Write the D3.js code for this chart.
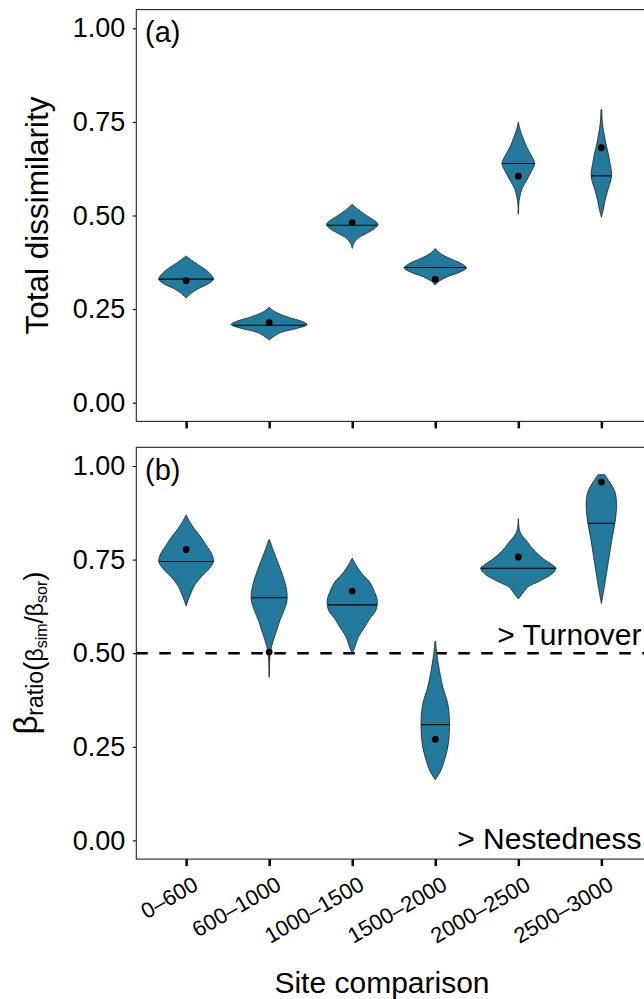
<!DOCTYPE html>
<html>
<head>
<meta charset="utf-8">
<script src="https://cdn.jsdelivr.net/npm/d3@7"></script>
<style>
  body { margin: 0; background: #fff; }
  svg { display: block; font-family: "Liberation Sans", Arial, sans-serif; }
</style>
</head>
<body>
<div id="chart"></div>
<script>
// ---- data ----
const categories = ["0–600", "600–1000", "1000–1500", "1500–2000", "2000–2500", "2500–3000"];
const yTicks = [0, 0.25, 0.5, 0.75, 1];

// (a) total dissimilarity
const dissimMedian = [0.330, 0.207, 0.474, 0.361, 0.639, 0.606];
const dissimObserved = [0.326, 0.2135, 0.481, 0.330, 0.605, 0.681];
// violin outlines: [value, relative density]
const dissimProfiles = [
  [[0.392,0],[0.376,0.21],[0.354,0.53],[0.341,0.66],[0.330,0.72],[0.319,0.61],[0.305,0.33],[0.292,0.13],[0.279,0]],
  [[0.255,0],[0.243,0.15],[0.2295,0.47],[0.218,0.84],[0.209,1.0],[0.1985,0.74],[0.188,0.32],[0.176,0.11],[0.167,0]],
  [[0.530,0],[0.514,0.18],[0.496,0.44],[0.483,0.63],[0.476,0.68],[0.465,0.59],[0.452,0.37],[0.439,0.15],[0.425,0.04],[0.412,0]],
  [[0.412,0],[0.399,0.13],[0.385,0.39],[0.372,0.68],[0.360,0.82],[0.348,0.63],[0.336,0.31],[0.325,0.11],[0.314,0]],
  [[0.750,0],[0.728,0.05],[0.706,0.13],[0.683,0.22],[0.661,0.34],[0.639,0.43],[0.617,0.34],[0.594,0.22],[0.572,0.10],[0.550,0.04],[0.530,0.012],[0.504,0.008]],
  [[0.783,0.01],[0.746,0.03],[0.719,0.07],[0.692,0.12],[0.666,0.18],[0.639,0.23],[0.612,0.27],[0.594,0.25],[0.568,0.17],[0.541,0.10],[0.515,0.05],[0.495,0]]
];

// (b) beta ratio
const ratioMedian = [0.745, 0.648, 0.629, 0.309, 0.727, 0.847];
const ratioObserved = [0.777, 0.503, 0.666, 0.270, 0.757, 0.957];
const ratioProfiles = [
  [[0.870,0],[0.854,0.08],[0.832,0.22],[0.810,0.39],[0.788,0.53],[0.766,0.67],[0.745,0.72],[0.726,0.61],[0.703,0.39],[0.681,0.22],[0.659,0.12],[0.641,0.05],[0.626,0]],
  [[0.803,0.01],[0.774,0.11],[0.748,0.21],[0.721,0.31],[0.694,0.40],[0.668,0.46],[0.641,0.47],[0.614,0.39],[0.587,0.28],[0.561,0.20],[0.534,0.11],[0.507,0.04],[0.481,0.015],[0.436,0.006]],
  [[0.754,0],[0.734,0.11],[0.712,0.26],[0.690,0.46],[0.668,0.57],[0.641,0.66],[0.614,0.62],[0.592,0.46],[0.570,0.33],[0.543,0.16],[0.516,0.07],[0.499,0]],
  [[0.532,0.01],[0.499,0.04],[0.454,0.11],[0.409,0.20],[0.365,0.33],[0.329,0.37],[0.285,0.37],[0.249,0.33],[0.214,0.24],[0.187,0.15],[0.162,0]],
  [[0.859,0],[0.823,0.05],[0.797,0.24],[0.774,0.42],[0.752,0.66],[0.734,0.92],[0.727,0.99],[0.712,0.89],[0.694,0.59],[0.676,0.24],[0.659,0.11],[0.645,0]],
  [[0.977,0.09],[0.957,0.22],[0.930,0.36],[0.895,0.40],[0.850,0.36],[0.806,0.28],[0.761,0.21],[0.716,0.14],[0.672,0.07],[0.632,0]]
];

// ---- drawing ----
const width = 644, height = 999;
const fill = "#237a9c";

const svg = d3.select("#chart").append("svg")
  .attr("width", width)
  .attr("height", height);
svg.append("rect").attr("width", width).attr("height", height).attr("fill", "#fff");

const x = d3.scalePoint().domain(categories).range([136.3, 651.2]).padding(0.6);
const halfW = d3.scaleLinear().domain([0, 1]).range([0, 38]);

// linear read of a profile at value v
const widthAt = (profile, v) => {
  for (let i = 0; i < profile.length - 1; i++) {
    const [v0, d0] = profile[i], [v1, d1] = profile[i + 1];
    if (v <= v0 && v >= v1) return d0 + (d1 - d0) * (v - v0) / (v1 - v0);
  }
  return 0;
};

const panels = [
  { label: "(a)", top: 9.6, bottom: 421.4, profiles: dissimProfiles, medians: dissimMedian, observed: dissimObserved, xLabels: false },
  { label: "(b)", top: 447.3, bottom: 859.1, profiles: ratioProfiles, medians: ratioMedian, observed: ratioObserved, xLabels: true }
];

panels.forEach((p, pi) => {
  const y = d3.scaleLinear().domain([-0.05, 1.05]).range([p.bottom, p.top]);
  const g = svg.append("g");
  const [x0, x1] = x.range();

  // reference line (panel b)
  if (pi === 1) {
    g.append("line")
      .attr("x1", x0).attr("x2", x1)
      .attr("y1", y(0.5)).attr("y2", y(0.5))
      .attr("stroke", "#000")
      .attr("stroke-width", 2.6)
      .attr("stroke-dasharray", "11.5,11.5");
  }

  const area = d3.area()
    .curve(d3.curveCatmullRom.alpha(0.5))
    .y(d => y(d[0]))
    .x0(d => -halfW(d[1]))
    .x1(d => halfW(d[1]));

  const violins = g.append("g").selectAll("g")
    .data(categories.map((c, i) => ({ c, profile: p.profiles[i], med: p.medians[i], obs: p.observed[i] })))
    .join("g")
    .attr("transform", d => `translate(${x(d.c)},0)`);

  violins.append("path")
    .attr("d", d => area(d.profile))
    .attr("fill", fill)
    .attr("stroke", "#111")
    .attr("stroke-width", 0.7);

  violins.append("line")
    .attr("x1", d => -halfW(widthAt(d.profile, d.med)))
    .attr("x2", d => halfW(widthAt(d.profile, d.med)))
    .attr("y1", d => y(d.med))
    .attr("y2", d => y(d.med))
    .attr("stroke", "#000")
    .attr("stroke-width", 1.1);

  violins.append("circle")
    .attr("cy", d => y(d.obs))
    .attr("r", 3.4)
    .attr("fill", "#000");

  // y axis
  const yAxis = g.append("g")
    .attr("transform", `translate(${x0},0)`)
    .call(d3.axisLeft(y).tickValues(yTicks).tickFormat(d3.format(".2f")).tickSize(3.5).tickPadding(7.5));
  yAxis.select(".domain").remove();
  yAxis.selectAll(".tick line").attr("stroke", "#000").attr("stroke-width", 1.1);
  yAxis.selectAll(".tick text")
    .attr("fill", "#000")
    .attr("font-size", 27)
    .attr("font-family", "'Liberation Sans', Arial, sans-serif");

  // x axis
  const xAxis = g.append("g")
    .attr("transform", `translate(0,${p.bottom})`)
    .call(d3.axisBottom(x).tickSize(7).tickFormat(""));
  xAxis.select(".domain").remove();
  xAxis.selectAll(".tick line").attr("stroke", "#000").attr("stroke-width", 2.5);
  if (p.xLabels) {
    xAxis.selectAll(".tick").append("text")
      .attr("transform", "translate(5,16) rotate(-30)")
      .attr("text-anchor", "end")
      .attr("dy", "0.72em")
      .attr("fill", "#000")
      .attr("font-size", 22)
      .attr("font-family", "'Liberation Sans', Arial, sans-serif")
      .text(d => d);
  }

  // panel border
  g.append("rect")
    .attr("x", x0).attr("y", p.top)
    .attr("width", x1 - x0).attr("height", p.bottom - p.top)
    .attr("fill", "none")
    .attr("stroke", "#222")
    .attr("stroke-width", 1.1);

  // panel tag
  g.append("text")
    .attr("x", 145).attr("y", p.top + 32.5)
    .attr("font-size", 29)
    .text(p.label);
});

// y axis titles
svg.append("text")
  .attr("transform", "translate(48,215.5) rotate(-90)")
  .attr("text-anchor", "middle")
  .attr("font-size", 31.5)
  .text("Total dissimilarity");

const t = svg.append("text")
  .attr("transform", "translate(37,653) rotate(-90)")
  .attr("text-anchor", "middle");
t.append("tspan").attr("font-size", 33).text("β");
t.append("tspan").attr("font-size", 23).attr("dy", 6).text("ratio");
t.append("tspan").attr("font-size", 28).text("(");
t.append("tspan").attr("font-size", 23).text("β");
t.append("tspan").attr("font-size", 16).attr("dy", 4).text("sim");
t.append("tspan").attr("font-size", 26).attr("dy", -4).text("/");
t.append("tspan").attr("font-size", 23).text("β");
t.append("tspan").attr("font-size", 16).attr("dy", 4).text("sor");
t.append("tspan").attr("font-size", 28).attr("dy", -4).text(")");

// annotations
svg.append("text")
  .attr("x", 641.5).attr("y", 645)
  .attr("text-anchor", "end")
  .attr("font-size", 30)
  .text("> Turnover");
svg.append("text")
  .attr("x", 641.5).attr("y", 849)
  .attr("text-anchor", "end")
  .attr("font-size", 30)
  .text("> Nestedness");

// x axis title
svg.append("text")
  .attr("x", 382).attr("y", 993)
  .attr("text-anchor", "middle")
  .attr("font-size", 30)
  .text("Site comparison");
</script>
</body>
</html>
